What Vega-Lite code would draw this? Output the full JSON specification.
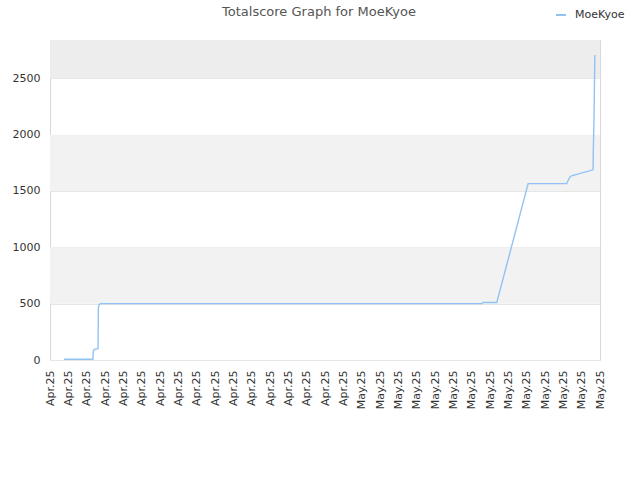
{
  "$schema": "https://vega.github.io/schema/vega-lite/v6.json",
  "width": 550,
  "height": 320,
  "autosize": {"type": "none"},
  "padding": {"left": 50, "top": 40, "right": 40, "bottom": 120},
  "background": "white",
  "config": {
    "font": "DejaVu Sans",
    "view": {"stroke": "#d9d9d9"},
    "axis": {
      "labelColor": "#333333",
      "labelFontSize": 11,
      "ticks": false,
      "domain": false,
      "gridColor": "#e6e6e6",
      "title": null
    }
  },
  "title": {
    "text": "Totalscore Graph for MoeKyoe",
    "anchor": "middle",
    "frame": "group",
    "fontSize": 13,
    "fontWeight": "normal",
    "color": "#555555",
    "dx": -6,
    "offset": 0,
    "dy": 10
  },
  "datasets": {
    "bands": [
      {"lo": 500, "hi": 1000, "shade": "light"},
      {"lo": 1500, "hi": 2000, "shade": "light"},
      {"lo": 2500, "hi": 2840, "shade": "dark"}
    ],
    "score": [
      {"t": 0.76, "score": 6},
      {"t": 2.34, "score": 6},
      {"t": 2.36, "score": 80},
      {"t": 2.42, "score": 95},
      {"t": 2.62, "score": 100},
      {"t": 2.64, "score": 470},
      {"t": 2.68, "score": 490},
      {"t": 2.74, "score": 500},
      {"t": 23.55, "score": 500},
      {"t": 23.62, "score": 510},
      {"t": 24.37, "score": 510},
      {"t": 26.08, "score": 1565},
      {"t": 28.18, "score": 1565},
      {"t": 28.22, "score": 1580},
      {"t": 28.36, "score": 1625},
      {"t": 28.45, "score": 1635},
      {"t": 29.62, "score": 1688},
      {"t": 29.64, "score": 1900},
      {"t": 29.67, "score": 2110},
      {"t": 29.72, "score": 2706}
    ]
  },
  "layer": [
    {
      "data": {"name": "bands"},
      "mark": {"type": "rect"},
      "encoding": {
        "x": {"value": 0},
        "x2": {"value": "width"},
        "y": {
          "field": "lo",
          "type": "quantitative",
          "scale": {"domain": [0, 2840], "nice": false, "zero": true},
          "axis": {
            "values": [0, 500, 1000, 1500, 2000, 2500],
            "format": "d",
            "labelPadding": 10,
            "grid": true
          }
        },
        "y2": {"field": "hi"},
        "fill": {
          "field": "shade",
          "type": "nominal",
          "scale": {"domain": ["light", "dark"], "range": ["#f2f2f2", "#ededed"]},
          "legend": null
        }
      }
    },
    {
      "data": {"name": "score"},
      "mark": {"type": "line", "strokeWidth": 1.4, "interpolate": "linear"},
      "encoding": {
        "x": {
          "field": "t",
          "type": "quantitative",
          "scale": {"domain": [0, 30], "nice": false, "zero": false},
          "axis": {
            "values": [0, 1, 2, 3, 4, 5, 6, 7, 8, 9, 10, 11, 12, 13, 14, 15, 16, 17, 18, 19, 20, 21, 22, 23, 24, 25, 26, 27, 28, 29, 30],
            "labelExpr": "datum.value < 17 ? 'Apr.25' : 'May.25'",
            "labelAngle": -90,
            "labelPadding": 10,
            "labelOverlap": false,
            "labelFlush": false,
            "grid": false
          }
        },
        "y": {"field": "score", "type": "quantitative"},
        "color": {
          "datum": "MoeKyoe",
          "type": "nominal",
          "scale": {"range": ["#90c3f3"]},
          "legend": {
            "orient": "none",
            "legendX": 505,
            "legendY": -31,
            "title": null,
            "symbolType": "stroke",
            "symbolSize": 100,
            "symbolStrokeWidth": 2,
            "labelOffset": 8,
            "labelFontSize": 11,
            "labelColor": "#333333"
          }
        }
      }
    }
  ]
}
